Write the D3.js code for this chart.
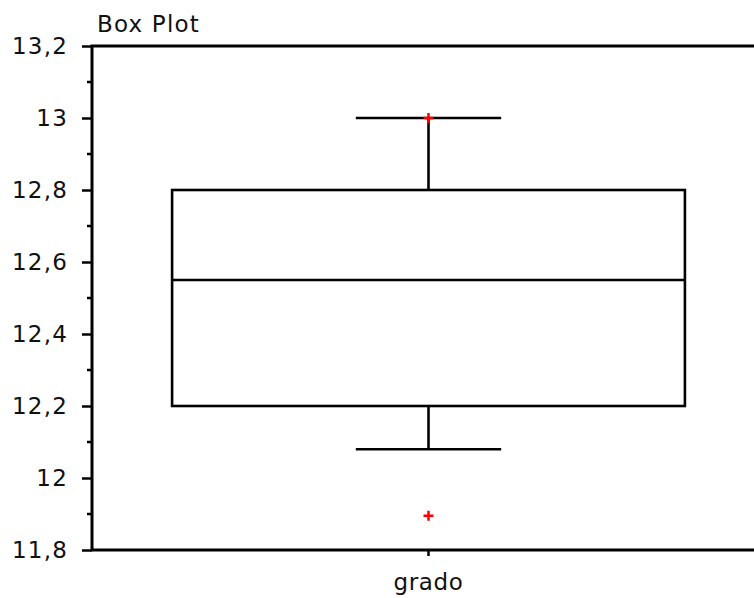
<!DOCTYPE html>
<html>
<head>
<meta charset="utf-8">
<script src="https://cdn.jsdelivr.net/npm/d3@7"></script>
<style>
  body { margin: 0; background: #fff; }
  text { font-family: "DejaVu Sans", Verdana, sans-serif; fill: #111; }
</style>
</head>
<body>
<div id="chart"></div>
<script>
const category = "grado";
const stats = { min: 12.08, q1: 12.2, median: 12.55, q3: 12.8, max: 13.0 };
const points = [13.0, 11.895];
const majorTicks = [11.8, 12, 12.2, 12.4, 12.6, 12.8, 13, 13.2];
const minorTicks = [11.9, 12.1, 12.3, 12.5, 12.7, 12.9, 13.1];

const width = 754;
const height = 598;
const margin = { top: 46, right: 0, bottom: 48, left: 92 };

const svg = d3.select("#chart")
    .append("svg")
        .attr("width", width)
        .attr("height", height);

const y = d3.scaleLinear()
    .domain([11.8, 13.2])
    .range([height - margin.bottom, margin.top]);

// band slightly wider than the visible plot (the right side is cut off)
const x = d3.scaleBand()
    .domain([category])
    .range([margin.left, 765]);

const fmt = d => String(d).replace(".", ",");

// y axis
const yAxis = svg.append("g")
    .attr("transform", `translate(${margin.left},0)`)
    .call(d3.axisLeft(y).tickValues(majorTicks).tickFormat(fmt).tickSize(10).tickPadding(14));
yAxis.select(".domain").remove();
yAxis.selectAll("line").attr("stroke", "#000").attr("stroke-width", 2.5);
yAxis.selectAll("text").style("font-size", "23px").style("letter-spacing", "1.2px");

svg.append("g")
    .selectAll("line")
    .data(minorTicks)
    .enter()
    .append("line")
        .attr("x1", margin.left - 5)
        .attr("x2", margin.left)
        .attr("y1", d => y(d))
        .attr("y2", d => y(d))
        .attr("stroke", "#000")
        .attr("stroke-width", 2.5);

// frame: left, bottom, top
const x0 = margin.left, x1 = width - margin.right;
const yTop = y(13.2), yBot = y(11.8);
svg.append("path")
    .attr("d", `M${x1},${yTop}H${x0}V${yBot}H${x1}`)
    .attr("fill", "none")
    .attr("stroke", "#000")
    .attr("stroke-width", 3);

// x axis tick + label
const cx = x(category) + x.bandwidth() / 2;
svg.append("line")
    .attr("x1", cx).attr("x2", cx)
    .attr("y1", yBot).attr("y2", yBot + 6)
    .attr("stroke", "#000")
    .attr("stroke-width", 2.5);
svg.append("text")
    .attr("x", cx)
    .attr("y", 590)
    .attr("text-anchor", "middle")
    .style("font-size", "23px")
    .style("letter-spacing", "0.6px")
    .text(category);

// title
svg.append("text")
    .attr("x", 97)
    .attr("y", 32)
    .style("font-size", "23px")
    .style("letter-spacing", "1.2px")
    .text("Box Plot");

// box
const boxHalf = x.bandwidth() * 0.381;
const capHalf = x.bandwidth() * 0.108;
const g = svg.append("g")
    .attr("fill", "none")
    .attr("stroke", "#000")
    .attr("stroke-width", 2.6);

g.append("line")
    .attr("x1", cx).attr("x2", cx)
    .attr("y1", y(stats.q3)).attr("y2", y(stats.max));
g.append("line")
    .attr("x1", cx).attr("x2", cx)
    .attr("y1", y(stats.q1)).attr("y2", y(stats.min));
g.append("rect")
    .attr("x", cx - boxHalf)
    .attr("y", y(stats.q3))
    .attr("width", boxHalf * 2)
    .attr("height", y(stats.q1) - y(stats.q3));
g.append("line")
    .attr("x1", cx - boxHalf).attr("x2", cx + boxHalf)
    .attr("y1", y(stats.median)).attr("y2", y(stats.median));
g.selectAll(".cap")
    .data([stats.min, stats.max])
    .enter()
    .append("line")
        .attr("class", "cap")
        .attr("x1", cx - capHalf).attr("x2", cx + capHalf)
        .attr("y1", d => y(d)).attr("y2", d => y(d));

// red plus markers
svg.append("g")
    .selectAll("path")
    .data(points)
    .enter()
    .append("path")
        .attr("d", d => `M${cx - 5},${y(d)}H${cx + 5}M${cx},${y(d) - 5}V${y(d) + 5}`)
        .attr("stroke", "#f00")
        .attr("stroke-width", 2.5);
</script>
</body>
</html>
